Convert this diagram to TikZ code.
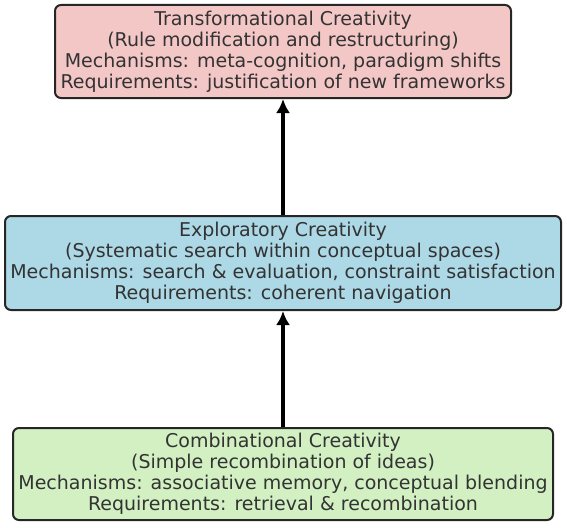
\documentclass[tikz,border=0pt]{standalone}
\usepackage{fontspec}
\setmainfont{DejaVu Sans}
\usetikzlibrary{arrows.meta}
\definecolor{pinkf}{HTML}{F4C7C7}
\definecolor{bluef}{HTML}{ADD8E6}
\definecolor{greenf}{HTML}{D2F0C2}
\definecolor{txt}{HTML}{333333}
\tikzset{
  level/.style={draw=black!85, line width=2pt, rounded corners=6pt, align=center,
    text=txt, font=\fontsize{19}{21}\selectfont, inner sep=0pt},
  up/.style={line width=4pt, -{Latex[length=14pt,width=14pt]}}
}
\begin{document}
\begin{tikzpicture}[x=1pt,y=-1pt]
\useasboundingbox (0,0) rectangle (567,527);
\node[level, fill=pinkf, minimum width=456pt, minimum height=93pt] (top) at (283,51.5)
  {Transformational Creativity\\(Rule modification and restructuring)\\Mechanisms: meta-cognition, paradigm shifts\\Requirements: justification of new frameworks};
\node[level, fill=bluef, minimum width=556pt, minimum height=94pt] (mid) at (283,263)
  {Exploratory Creativity\\(Systematic search within conceptual spaces)\\Mechanisms: search \& evaluation, constraint satisfaction\\Requirements: coherent navigation};
\node[level, fill=greenf, minimum width=540pt, minimum height=92pt] (bot) at (283,474)
  {Combinational Creativity\\(Simple recombination of ideas)\\Mechanisms: associative memory, conceptual blending\\Requirements: retrieval \& recombination};
\draw[up] (mid.north) -- (top.south);
\draw[up] (bot.north) -- (mid.south);
\end{tikzpicture}
\end{document}
